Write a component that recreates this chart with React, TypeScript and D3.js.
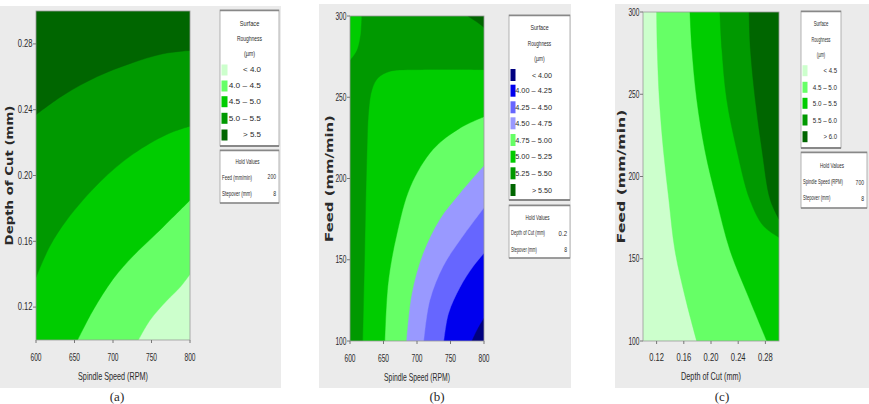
import * as d3 from 'd3';

type Pt = [number, number];

// shared axis domains / ticks
const speedDomain: Pt = [600, 800];
const depthDomain: Pt = [0.1, 0.3];
const feedDomain: Pt = [100, 300];
const speedTicks = [600, 650, 700, 750, 800];
const depthTicks = [0.12, 0.16, 0.2, 0.24, 0.28];
const feedTicks = [100, 150, 200, 250, 300];

// (a) Depth of Cut vs Spindle Speed -- contour lines as [rpm, depth]
const aLabels = ['< 4.0', '4.0 – 4.5', '4.5 – 5.0', '5.0 – 5.5', '> 5.5'];
const aColors = ['#CCFFCC', '#66FF66', '#00CC00', '#009900', '#006600'];
const a40: Pt[] = [[733, 0.1], [748, 0.112], [770, 0.124], [787, 0.132], [800, 0.14]];
const a45: Pt[] = [[654, 0.1], [674, 0.118], [700, 0.137], [726, 0.151], [757, 0.165], [800, 0.185]];
const a50: Pt[] = [[600, 0.138], [618, 0.157], [640, 0.173], [683, 0.196], [726, 0.213], [770, 0.225], [800, 0.23]];
const a55: Pt[] = [[600, 0.237], [636, 0.249], [679, 0.26], [722, 0.268], [765, 0.274], [800, 0.276]];
const aHold = [['Feed (mm/min)', '200'], ['Stepover (mm)', '8']];

// (b) Feed vs Spindle Speed -- [rpm, feed]
const bLabels = ['< 4.00', '4.00 – 4.25', '4.25 – 4.50', '4.50 – 4.75', '4.75 – 5.00', '5.00 – 5.25', '5.25 – 5.50', '> 5.50'];
const bColors = ['#000080', '#0000EE', '#6666FF', '#9999FF', '#66FF66', '#00CC00', '#009900', '#006600'];
const b40: Pt[] = [[782, 100], [790, 107], [800, 114]];
const b425: Pt[] = [[740, 100], [747, 117], [764, 133], [784, 146], [800, 154]];
const b450: Pt[] = [[710, 100], [719, 125], [739, 146], [764, 162], [800, 182]];
const b475: Pt[] = [[684, 100], [692, 129], [709, 154], [734, 175], [764, 191], [800, 208]];
const b500: Pt[] = [[652, 100], [657, 136], [670, 166], [690, 195], [724, 218], [764, 231], [800, 238]];
const b525: Pt[] = [[800, 267], [704, 267], [660, 266], [642, 262], [633, 255], [628, 242], [625, 211], [622, 156], [619, 100]];
const b525corner: Pt[] = [[617, 300], [616, 291], [614, 285], [610, 279], [604, 275], [600, 273]];
const b550: Pt[] = [[776, 300], [785, 297.5], [794, 295], [800, 293]];
const bHold = [['Depth of Cut (mm)', '0.2'], ['Stepover (mm)', '8']];

// (c) Feed vs Depth of Cut -- [depth, feed]
const cLabels = ['< 4.5', '4.5 – 5.0', '5.0 – 5.5', '5.5 – 6.0', '> 6.0'];
const cColors = ['#CCFFCC', '#66FF66', '#00CC00', '#009900', '#006600'];
const c45: Pt[] = [[0.12, 300], [0.121, 277], [0.124, 247], [0.13, 216], [0.138, 186], [0.147, 155], [0.163, 125], [0.179, 100]];
const c50: Pt[] = [[0.169, 300], [0.172, 277], [0.179, 247], [0.191, 216], [0.208, 186], [0.228, 155], [0.253, 129], [0.282, 100]];
const c55: Pt[] = [[0.213, 300], [0.216, 277], [0.223, 247], [0.238, 216], [0.257, 186], [0.277, 170], [0.3, 163]];
const c60: Pt[] = [[0.256, 300], [0.258, 277], [0.265, 247], [0.275, 216], [0.287, 186], [0.3, 174]];
const cHold = [['Spindle Speed (RPM)', '700'], ['Stepover (mm)', '8']];

const NARROW = '"Liberation Sans Narrow", "Liberation Sans", sans-serif';
const INK = '#2a2a2a';

// measure natural width so condensed text can be squeezed with a transform
let ctx: CanvasRenderingContext2D | null = null;
function measure(s: string, size: number, bold: boolean, family: string) {
  if (!ctx) ctx = document.createElement('canvas').getContext('2d');
  if (!ctx) return s.length * size * 0.5;
  ctx.font = `${bold ? 'bold ' : ''}${size}px ${family}`;
  return ctx.measureText(s).width || s.length * size * 0.5;
}

function Txt({ x, y, s, size = 8, anchor = 'start', len, bold = false, family = NARROW, rotate = false }: any) {
  const sx = len ? len / measure(s, size, bold, family) : 1;
  return (
    <text
      transform={`translate(${x},${y})${rotate ? ' rotate(-90)' : ''} scale(${sx},1)`}
      fontSize={size}
      textAnchor={anchor}
      fontWeight={bold ? 'bold' : 'normal'}
      fontFamily={family}
      dominantBaseline="central"
      fill={INK}
    >
      {s}
    </text>
  );
}

function Panel({ p }: any) {
  const { plot } = p;
  const x = d3.scaleLinear().domain(p.xDomain).range([plot.l, plot.r]);
  const y = d3.scaleLinear().domain(p.yDomain).range([plot.b, plot.t]);
  const [x0, x1] = p.xDomain;
  const [y0, y1] = p.yDomain;
  const corner: Record<string, Pt> = { tl: [x0, y1], tr: [x1, y1], bl: [x0, y0], br: [x1, y0] };

  const line = d3
    .line<Pt>()
    .x(d => x(d[0]))
    .y(d => y(d[1]))
    .curve(d3.curveCatmullRom.alpha(0.5));
  const regionPath = (r: any) =>
    line(r.pts) + r.corners.map((k: string) => `L${x(corner[k][0])},${y(corner[k][1])}`).join('') + 'Z';

  const clip = `clip-${p.id}`;
  const lg = p.legend;
  const hd = p.hold;

  return (
    <g>
      <rect x={p.bg[0]} y={p.bg[1]} width={p.bg[2]} height={p.bg[3]} fill="#EBEBEB" />
      <clipPath id={clip}>
        <rect x={plot.l} y={plot.t} width={plot.r - plot.l} height={plot.b - plot.t} />
      </clipPath>
      <g clipPath={`url(#${clip})`}>
        <rect x={plot.l} y={plot.t} width={plot.r - plot.l} height={plot.b - plot.t} fill={p.base} />
        {p.regions.map((r: any, i: number) => (
          <path key={i} d={regionPath(r)} fill={r.fill} stroke={r.fill} strokeWidth={0.4} />
        ))}
      </g>
      <rect x={plot.l} y={plot.t} width={plot.r - plot.l} height={plot.b - plot.t} fill="none" stroke="#9a9a9a" strokeWidth={0.8} />

      {/* y axis */}
      {p.yTicks.map((t: number) => (
        <g key={'y' + t}>
          <line x1={plot.l - 3} x2={plot.l} y1={y(t)} y2={y(t)} stroke="#777" />
          <Txt x={plot.l - 3.5} y={y(t)} s={p.yFmt(t)} size={10} anchor="end" len={p.yFmt(t).length * 3.7} />
        </g>
      ))}
      {/* x axis */}
      {p.xTicks.map((t: number) => (
        <g key={'x' + t}>
          <line x1={x(t)} x2={x(t)} y1={plot.b} y2={plot.b + 3} stroke="#777" />
          <Txt x={x(t)} y={plot.b + 17} s={p.xFmt(t)} size={10} anchor="middle" len={p.xFmt(t).length * 3.7} />
        </g>
      ))}
      <Txt x={(plot.l + plot.r) / 2} y={377} s={p.xTitle} size={10} anchor="middle" len={p.xTitleLen} />
      <Txt
        x={p.yTitleX}
        y={(plot.t + plot.b) / 2}
        s={p.yTitle}
        size={10}
        bold
        anchor="middle"
        family='"DejaVu Sans", sans-serif'
        len={p.yTitleLen}
        rotate
      />
      <text x={p.captionX} y={396} fontSize={13} textAnchor="middle" dominantBaseline="central" fontFamily='"Liberation Serif", serif' fill={INK}>
        {p.caption}
      </text>

      {/* legend */}
      <rect x={lg.x} y={lg.y} width={lg.w} height={lg.h} fill="#fff" stroke="#a0a0a0" strokeWidth={0.8} />
      <line x1={lg.x} x2={lg.x + lg.w} y1={lg.y + 0.5} y2={lg.y + 0.5} stroke="#888" strokeWidth={1.6} />
      <line x1={lg.x} x2={lg.x + lg.w} y1={lg.y + lg.h} y2={lg.y + lg.h} stroke="#888" strokeWidth={1.8} />
      {['Surface', 'Roughness', '(µm)'].map((s, i) => (
        <Txt key={s} x={lg.x + lg.w / 2} y={lg.titleY[i]} s={s} size={7.5} anchor="middle" len={s.length * lg.tw} />
      ))}
      {p.labels.map((s: string, i: number) => (
        <g key={s}>
          <rect x={lg.x + 1.5} y={lg.rowY[i] - lg.sh / 2} width={lg.sw} height={lg.sh} fill={p.colors[i]} />
          <Txt x={lg.labelR} y={lg.rowY[i]} s={s} size={7.5} anchor="end" len={s.length * lg.cw} />
        </g>
      ))}

      {/* hold values */}
      <rect x={hd.x} y={hd.y} width={hd.w} height={hd.h} fill="#fff" stroke="#a0a0a0" strokeWidth={0.8} />
      <line x1={hd.x} x2={hd.x + hd.w} y1={hd.y + 0.5} y2={hd.y + 0.5} stroke="#888" strokeWidth={1.4} />
      <line x1={hd.x} x2={hd.x + hd.w} y1={hd.y + hd.h} y2={hd.y + hd.h} stroke="#888" strokeWidth={1.6} />
      <Txt x={hd.x + hd.w / 2 - 2} y={hd.rowY[0]} s="Hold Values" size={7.5} anchor="middle" len={24} />
      {p.holdRows.map((r: string[], i: number) => (
        <g key={r[0]}>
          <Txt x={hd.x + 2} y={hd.rowY[i + 1]} s={r[0]} size={7.5} len={r[0].length * hd.cw} />
          <Txt x={hd.x + hd.w - 3} y={hd.rowY[i + 1]} s={r[1]} size={7.5} anchor="end" len={r[1].length * 2.8} />
        </g>
      ))}
    </g>
  );
}

const fmtInt = (v: number) => d3.format('d')(v);
const fmt2 = (v: number) => d3.format('.2f')(v);

const panels = [
  {
    id: 'a',
    bg: [0, 6, 281, 382],
    plot: { l: 36, t: 11, r: 190, b: 340 },
    xDomain: speedDomain,
    yDomain: depthDomain,
    xTicks: speedTicks,
    yTicks: depthTicks,
    xFmt: fmtInt,
    yFmt: fmt2,
    xTitle: 'Spindle Speed (RPM)',
    xTitleLen: 70,
    yTitle: 'Depth of Cut (mm)',
    yTitleX: 10,
    yTitleLen: 140,
    caption: '(a)',
    captionX: 117,
    base: aColors[0],
    regions: [
      { pts: a40, corners: ['tr', 'tl', 'bl'], fill: aColors[1] },
      { pts: a45, corners: ['tr', 'tl', 'bl'], fill: aColors[2] },
      { pts: a50, corners: ['tr', 'tl'], fill: aColors[3] },
      { pts: a55, corners: ['tr', 'tl'], fill: aColors[4] },
    ],
    labels: aLabels,
    colors: aColors,
    legend: { x: 220, y: 10, w: 59, h: 136, titleY: [22.7, 38.3, 53.3], rowY: [70, 86, 101.7, 118.3, 135], sw: 6, sh: 11, labelR: 261, cw: 3.6, tw: 2.8 },
    hold: { x: 220, y: 150, w: 59, h: 53, rowY: [161, 176.5, 193], cw: 2.3 },
    holdRows: aHold,
  },
  {
    id: 'b',
    bg: [319, 4, 252, 384],
    plot: { l: 350, t: 16, r: 484, b: 341 },
    xDomain: speedDomain,
    yDomain: feedDomain,
    xTicks: speedTicks,
    yTicks: feedTicks,
    xFmt: fmtInt,
    yFmt: fmtInt,
    xTitle: 'Spindle Speed (RPM)',
    xTitleLen: 66,
    yTitle: 'Feed (mm/min)',
    yTitleX: 329,
    yTitleLen: 127,
    caption: '(b)',
    captionX: 437,
    base: bColors[1],
    regions: [
      { pts: b40, corners: ['br'], fill: bColors[0] },
      { pts: b425, corners: ['tr', 'tl', 'bl'], fill: bColors[2] },
      { pts: b450, corners: ['tr', 'tl', 'bl'], fill: bColors[3] },
      { pts: b475, corners: ['tr', 'tl', 'bl'], fill: bColors[4] },
      { pts: b500, corners: ['tr', 'tl', 'bl'], fill: bColors[5] },
      { pts: b525, corners: ['bl', 'tl', 'tr'], fill: bColors[6] },
      { pts: b525corner, corners: ['tl'], fill: bColors[5] },
      { pts: b550, corners: ['tr'], fill: bColors[7] },
    ],
    labels: bLabels,
    colors: bColors,
    legend: { x: 509, y: 15, w: 61, h: 185, titleY: [26.7, 42.7, 58.3], rowY: [75, 90.7, 107.3, 123.3, 140, 156.7, 173.3, 190], sw: 5, sh: 12, labelR: 552, cw: 3.35, tw: 2.6 },
    hold: { x: 509, y: 205, w: 61, h: 53, rowY: [217, 233, 249], cw: 2.0 },
    holdRows: bHold,
  },
  {
    id: 'c',
    bg: [615, 4, 254, 384],
    plot: { l: 643, t: 12, r: 779, b: 341 },
    xDomain: depthDomain,
    yDomain: feedDomain,
    xTicks: depthTicks,
    yTicks: feedTicks,
    xFmt: fmt2,
    yFmt: fmtInt,
    xTitle: 'Depth of Cut (mm)',
    xTitleLen: 60,
    yTitle: 'Feed (mm/min)',
    yTitleX: 622,
    yTitleLen: 134,
    caption: '(c)',
    captionX: 722,
    base: cColors[0],
    regions: [
      { pts: c45, corners: ['br', 'tr'], fill: cColors[1] },
      { pts: c50, corners: ['br', 'tr'], fill: cColors[2] },
      { pts: c55, corners: ['tr'], fill: cColors[3] },
      { pts: c60, corners: ['tr'], fill: cColors[4] },
    ],
    labels: cLabels,
    colors: cColors,
    legend: { x: 801, y: 11, w: 40, h: 137, titleY: [23.3, 39.3, 55], rowY: [70.7, 87.3, 103.3, 120, 136.7], sw: 5, sh: 11, labelR: 837, cw: 2.7, tw: 2.1 },
    hold: { x: 801, y: 152, w: 66, h: 56, rowY: [165, 182, 198], cw: 2.1 },
    holdRows: cHold,
  },
];

export default function App() {
  return (
    <svg
      width={869}
      height={404}
      viewBox="0 0 869 404"
      style={{ position: 'fixed', left: 0, top: 0, background: '#fff' }}
    >
      <rect width={869} height={404} fill="#fff" />
      {panels.map(p => (
        <Panel key={p.id} p={p} />
      ))}
    </svg>
  );
}
